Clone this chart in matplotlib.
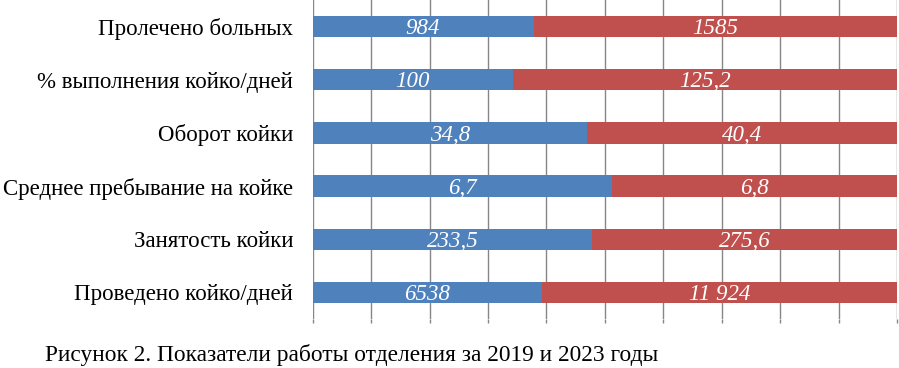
import matplotlib
matplotlib.use("Agg")
import matplotlib.pyplot as plt
from matplotlib import font_manager

plt.rcParams['font.family'] = ['Liberation Serif', 'DejaVu Serif']

categories = ["Пролечено больных", "% выполнения койко/дней", "Оборот койки",
              "Среднее пребывание на койке", "Занятость койки", "Проведено койко/дней"]
# bar shares (%) as drawn in the picture
share_2019 = [37.8, 34.3, 46.9, 51.2, 47.85, 39.2]
share_2023 = [62.2, 65.7, 53.1, 48.8, 52.15, 60.8]
labels_2019 = ["984", "100", "34,8", "6,7", "233,5", "6538"]
labels_2023 = ["1585", "125,2", "40,4", "6,8", "275,6", "11 924"]
caption = "Рисунок 2. Показатели работы отделения за 2019 и 2023 годы"

blue = "#4F81BD"
red = "#C0504D"

label_font = font_manager.FontProperties(family='Liberation Serif', style='italic', size=16.5)

fig = plt.figure(figsize=(8.99, 3.68), dpi=100)
ax = fig.add_axes([0.3477, 0.133, 0.9980 - 0.3477, 0.867])

y = list(range(len(categories)))
b1 = ax.barh(y, share_2019, height=0.4, color=blue, zorder=3)
b2 = ax.barh(y, share_2023, left=share_2019, height=0.4, color=red, zorder=3)

for bars, labs in ((b1, labels_2019), (b2, labels_2023)):
    for rect, lab in zip(bars, labs):
        cx = rect.get_x() + rect.get_width() / 2
        cy = rect.get_y() + rect.get_height() / 2
        ax.annotate(lab, (cx, cy), xytext=(0, -1.5), textcoords='offset points',
                    ha='center', va='center', color='white',
                    fontproperties=label_font, zorder=4)

ax.set_xlim(0, 100)
ax.set_ylim(len(categories) - 0.5, -0.5)
ax.set_xticks(range(0, 101, 10))
ax.set_xticklabels([])
ax.tick_params(axis='x', length=3, width=1, color='#868686', direction='out')
ax.set_yticks(y)
ax.set_yticklabels(categories, fontsize=16.5)
ax.tick_params(axis='y', length=0, pad=14)
ax.grid(axis='x', color='#868686', linewidth=1)
ax.set_axisbelow(True)
for s in ax.spines.values():
    s.set_visible(False)

fig.text(45 / 899, 1 - 355 / 368, caption, ha='left', va='center', fontsize=16.8)

fig.savefig("out.png", dpi=100)
